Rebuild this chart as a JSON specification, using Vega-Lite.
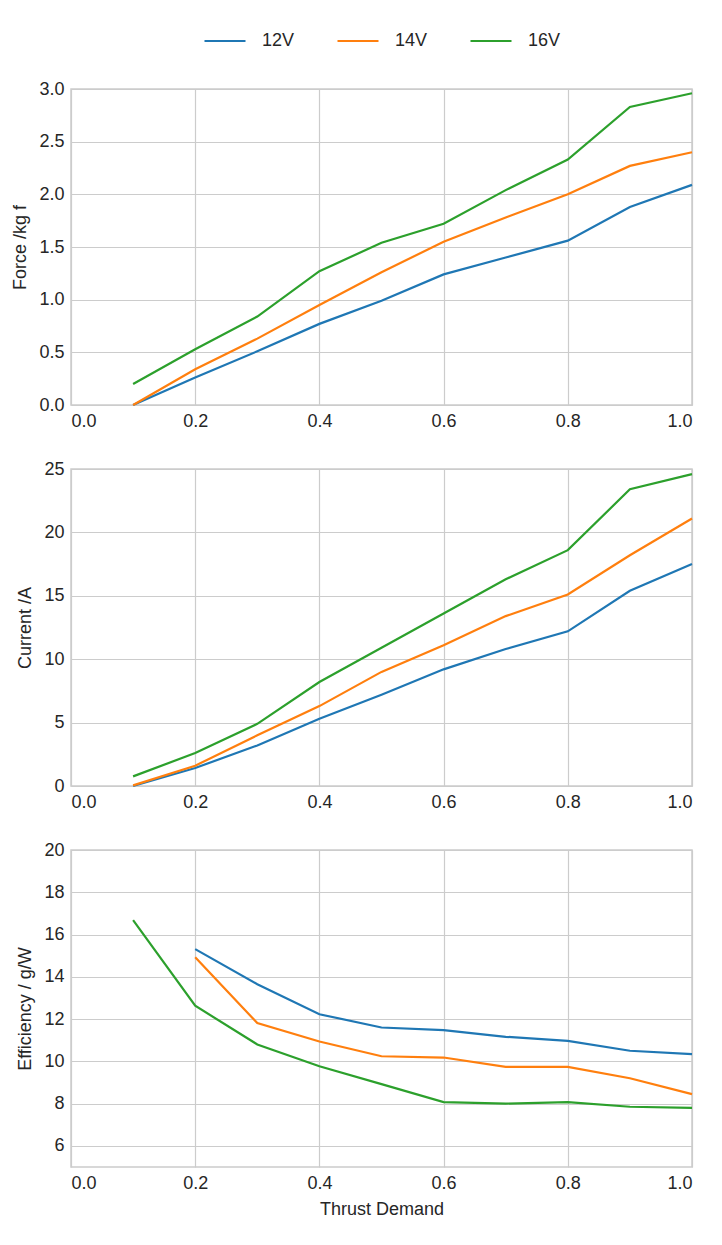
{
  "$schema": "https://vega.github.io/schema/vega-lite/v6.json",
  "background": "white",
  "padding": {"left": 11, "top": 18, "right": 5, "bottom": 5},
  "config": {
    "font": "Liberation Sans",
    "view": {"stroke": "#cccccc", "strokeWidth": 1.5},
    "axis": {
      "grid": true,
      "gridColor": "#cccccc",
      "gridWidth": 1.2,
      "domain": false,
      "ticks": false,
      "labelFontSize": 18,
      "labelColor": "#262626",
      "titleFontSize": 18,
      "titleFontWeight": "normal",
      "titleColor": "#262626",
      "labelPadding": 7,
      "titlePadding": 9
    },
    "legend": {
      "labelFontSize": 18,
      "labelColor": "#262626",
      "symbolType": "stroke",
      "symbolStrokeWidth": 2.5,
      "symbolSize": 1681,
      "labelOffset": 15,
      "columnPadding": 38,
      "layout": {"top": {"anchor": "middle"}}
    },
    "line": {"strokeWidth": 2.2}
  },
  "data": {
    "values": [
      {"thrust": 0.1, "voltage": "12V", "force": 0.0, "current": 0.0, "efficiency": null},
      {"thrust": 0.2, "voltage": "12V", "force": 0.26, "current": 1.42, "efficiency": 15.31},
      {"thrust": 0.3, "voltage": "12V", "force": 0.51, "current": 3.2, "efficiency": 13.65},
      {"thrust": 0.4, "voltage": "12V", "force": 0.77, "current": 5.3, "efficiency": 12.23},
      {"thrust": 0.5, "voltage": "12V", "force": 0.99, "current": 7.2, "efficiency": 11.6},
      {"thrust": 0.6, "voltage": "12V", "force": 1.24, "current": 9.2, "efficiency": 11.48},
      {"thrust": 0.7, "voltage": "12V", "force": 1.4, "current": 10.8, "efficiency": 11.16},
      {"thrust": 0.8, "voltage": "12V", "force": 1.56, "current": 12.2, "efficiency": 10.97},
      {"thrust": 0.9, "voltage": "12V", "force": 1.88, "current": 15.4, "efficiency": 10.5},
      {"thrust": 1.0, "voltage": "12V", "force": 2.09, "current": 17.5, "efficiency": 10.34},
      {"thrust": 0.1, "voltage": "14V", "force": 0.0, "current": 0.05, "efficiency": null},
      {"thrust": 0.2, "voltage": "14V", "force": 0.34, "current": 1.6, "efficiency": 14.92},
      {"thrust": 0.3, "voltage": "14V", "force": 0.63, "current": 4.0, "efficiency": 11.81},
      {"thrust": 0.4, "voltage": "14V", "force": 0.95, "current": 6.3, "efficiency": 10.94},
      {"thrust": 0.5, "voltage": "14V", "force": 1.26, "current": 9.0, "efficiency": 10.24},
      {"thrust": 0.6, "voltage": "14V", "force": 1.55, "current": 11.1, "efficiency": 10.18},
      {"thrust": 0.7, "voltage": "14V", "force": 1.78, "current": 13.4, "efficiency": 9.74},
      {"thrust": 0.8, "voltage": "14V", "force": 2.0, "current": 15.1, "efficiency": 9.74},
      {"thrust": 0.9, "voltage": "14V", "force": 2.27, "current": 18.2, "efficiency": 9.2},
      {"thrust": 1.0, "voltage": "14V", "force": 2.4, "current": 21.1, "efficiency": 8.45},
      {"thrust": 0.1, "voltage": "16V", "force": 0.2, "current": 0.76, "efficiency": 16.68},
      {"thrust": 0.2, "voltage": "16V", "force": 0.53, "current": 2.6, "efficiency": 12.63},
      {"thrust": 0.3, "voltage": "16V", "force": 0.84, "current": 4.9, "efficiency": 10.8},
      {"thrust": 0.4, "voltage": "16V", "force": 1.27, "current": 8.2, "efficiency": 9.77},
      {"thrust": 0.5, "voltage": "16V", "force": 1.54, "current": 10.9, "efficiency": 8.92},
      {"thrust": 0.6, "voltage": "16V", "force": 1.72, "current": 13.6, "efficiency": 8.07},
      {"thrust": 0.7, "voltage": "16V", "force": 2.04, "current": 16.3, "efficiency": 8.0},
      {"thrust": 0.8, "voltage": "16V", "force": 2.33, "current": 18.6, "efficiency": 8.07},
      {"thrust": 0.9, "voltage": "16V", "force": 2.83, "current": 23.4, "efficiency": 7.85},
      {"thrust": 1.0, "voltage": "16V", "force": 2.96, "current": 24.6, "efficiency": 7.8}
    ]
  },
  "spacing": 28,
  "resolve": {"legend": {"color": "independent"}},
  "vconcat": [
    {
      "width": 621,
      "height": 316,
      "mark": "line",
      "encoding": {
        "x": {"field": "thrust", "type": "quantitative", "title": null, "scale": {"domain": [0, 1]}, "axis": {"values": [0, 0.2, 0.4, 0.6, 0.8, 1.0], "format": ".1f"}},
        "y": {"field": "force", "type": "quantitative", "title": "Force /kg f", "scale": {"domain": [0, 3]}, "axis": {"values": [0, 0.5, 1, 1.5, 2, 2.5, 3], "format": ".1f"}},
        "color": {
          "field": "voltage", "type": "nominal",
          "scale": {"domain": ["12V", "14V", "16V"], "range": ["#1f77b4", "#ff7f0e", "#2ca02c"]},
          "legend": {"orient": "top", "direction": "horizontal", "title": null, "offset": 38}
        }
      }
    },
    {
      "width": 621,
      "height": 317,
      "mark": "line",
      "encoding": {
        "x": {"field": "thrust", "type": "quantitative", "title": null, "scale": {"domain": [0, 1]}, "axis": {"values": [0, 0.2, 0.4, 0.6, 0.8, 1.0], "format": ".1f"}},
        "y": {"field": "current", "type": "quantitative", "title": "Current /A", "scale": {"domain": [0, 25]}, "axis": {"values": [0, 5, 10, 15, 20, 25]}},
        "color": {"field": "voltage", "type": "nominal", "legend": null}
      }
    },
    {
      "width": 621,
      "height": 317,
      "mark": "line",
      "encoding": {
        "x": {"field": "thrust", "type": "quantitative", "title": "Thrust Demand", "scale": {"domain": [0, 1]}, "axis": {"values": [0, 0.2, 0.4, 0.6, 0.8, 1.0], "format": ".1f", "titlePadding": 8}},
        "y": {"field": "efficiency", "type": "quantitative", "title": "Efficiency / g/W", "scale": {"domain": [5, 20]}, "axis": {"values": [6, 8, 10, 12, 14, 16, 18, 20]}},
        "color": {"field": "voltage", "type": "nominal", "legend": null}
      }
    }
  ]
}
